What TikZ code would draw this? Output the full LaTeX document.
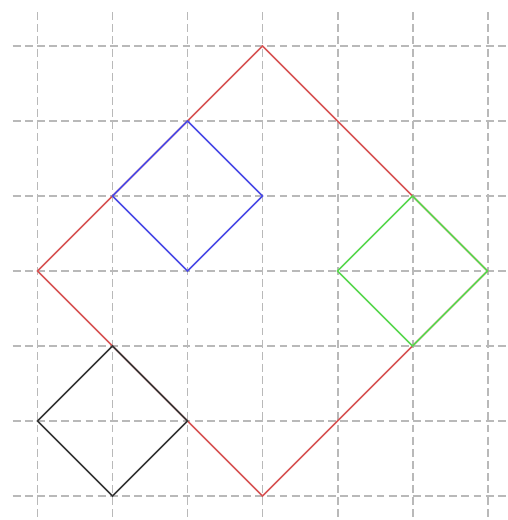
\documentclass[tikz,border=0pt]{standalone}
\definecolor{gridgray}{RGB}{185,185,185}
\definecolor{myred}{RGB}{215,85,85}
\definecolor{myblue}{RGB}{75,75,230}
\definecolor{mygreen}{RGB}{90,215,80}
\definecolor{myblack}{RGB}{55,55,55}
\begin{document}
\begin{tikzpicture}[
  gridline/.style={gridgray, line width=0.75pt, dash pattern=on 3pt off 1.6pt},
  sq/.style={line width=0.6pt, line join=miter}
]
\useasboundingbox (-0.5,-0.32) rectangle (6.273,6.613);
\begin{scope}
\clip (-0.5,-0.32) rectangle (6.273,6.613);
\foreach \i in {0,...,6} {
  \draw[gridline] (\i,6.45) -- (\i,-0.45);
  \draw[gridline] (-0.33,\i) -- (6.45,\i);
}
\end{scope}
\coordinate (R1) at (3,6); \coordinate (R2) at (6,3); \coordinate (R3) at (3,0); \coordinate (R4) at (0,3);
\coordinate (B1) at (2,5); \coordinate (B2) at (3,4); \coordinate (B3) at (2,3); \coordinate (B4) at (1,4);
\coordinate (G1) at (5,4); \coordinate (G2) at (6,3); \coordinate (G3) at (5,2); \coordinate (G4) at (4,3);
\coordinate (K1) at (1,2); \coordinate (K2) at (2,1); \coordinate (K3) at (1,0); \coordinate (K4) at (0,1);
\draw[sq, myred] (R1) -- (R2) -- (R3) -- (R4) -- cycle;
\draw[sq, myblue] (B1) -- (B2) -- (B3) -- (B4) -- cycle;
\draw[sq, mygreen] (G1) -- (G2) -- (G3) -- (G4) -- cycle;
\draw[sq, myblack] (K1) -- (K2) -- (K3) -- (K4) -- cycle;
\end{tikzpicture}
\end{document}
